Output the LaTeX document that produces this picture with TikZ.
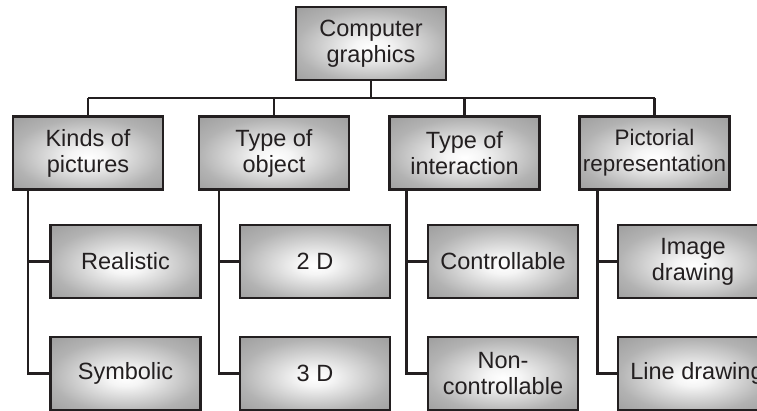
\documentclass[tikz,border=0pt]{standalone}
\usepackage{fontspec}
\setmainfont{Liberation Sans}
\usetikzlibrary{calc}
\definecolor{inkline}{RGB}{35,31,32}

% soft grey shading of the boxes
\pgfdeclareradialshading{boxglow}{\pgfpoint{0bp}{-3bp}}{%
  color(0bp)=(white); color(6bp)=(black!4); color(25bp)=(black!30);
  color(50bp)=(black!48)}

\tikzset{
  box/.style={draw=inkline, line width=2.4pt, shading=boxglow,
    minimum width=150pt, minimum height=73pt,
    align=center, text=inkline, inner sep=0pt,
    font=\fontsize{23.5}{26}\selectfont},
  link/.style={draw=inkline, line width=2.4pt}
}

\begin{document}
\begin{tikzpicture}[x=1pt,y=-1pt]
\useasboundingbox (0,0) rectangle (757,410);
\clip (0,0) rectangle (757,410);

% root
\node[box] (cg) at (371,43.5) {Computer\\graphics};

% first level
\node[box] (kinds) at (88,153)    {Kinds of\\pictures};
\node[box] (obj)   at (274,153)   {Type of\\object};
\node[box] (inter) at (464.5,153) {Type of\\interaction};
\node[box, font=\fontsize{22.4}{26}\selectfont] (pict) at (654.5,153)
  {Pictorial\\representation};

% second level
\node[box] (real)  at (125.5,261.5) {Realistic};
\node[box] (symb)  at (125.5,373.5) {Symbolic};
\node[box] (twod)  at (315,261.5)   {2 D};
\node[box] (threed) at (315,373.5)  {3 D};
\node[box] (ctrl)  at (503,261.5)   {Controllable};
\node[box] (nctrl) at (503,373.5)   {Non-\\controllable};
\node[box] (img)   at (693,261.5)   {Image\\drawing};
\node[box] (line)  at (693,373.5)   {\hspace*{8pt}Line drawing};

% bus under the root
\coordinate (bus) at ($(cg.south)+(0,17)$);
\draw[link] (cg.south) -- (bus);
\draw[link] (kinds.north |- bus) -- (pict.north |- bus);
\foreach \n in {kinds,obj,inter,pict}
  \draw[link] (\n.north |- bus) -- (\n.north);

% trunks down to the second level
\coordinate (tk) at ($(kinds.south west)+(16,0)$);
\coordinate (to) at ($(obj.south west)+(21,0)$);
\coordinate (ti) at ($(inter.south west)+(18,0)$);
\coordinate (tp) at ($(pict.south west)+(19,0)$);
\draw[link] (tk) -- (tk |- real.west) -- (real.west);
\draw[link] (tk |- real.west) -- (tk |- symb.west) -- (symb.west);
\draw[link] (to) -- (to |- twod.west) -- (twod.west);
\draw[link] (to |- twod.west) -- (to |- threed.west) -- (threed.west);
\draw[link] (ti) -- (ti |- ctrl.west) -- (ctrl.west);
\draw[link] (ti |- ctrl.west) -- (ti |- nctrl.west) -- (nctrl.west);
\draw[link] (tp) -- (tp |- img.west) -- (img.west);
\draw[link] (tp |- img.west) -- (tp |- line.west) -- (line.west);

\end{tikzpicture}
\end{document}
